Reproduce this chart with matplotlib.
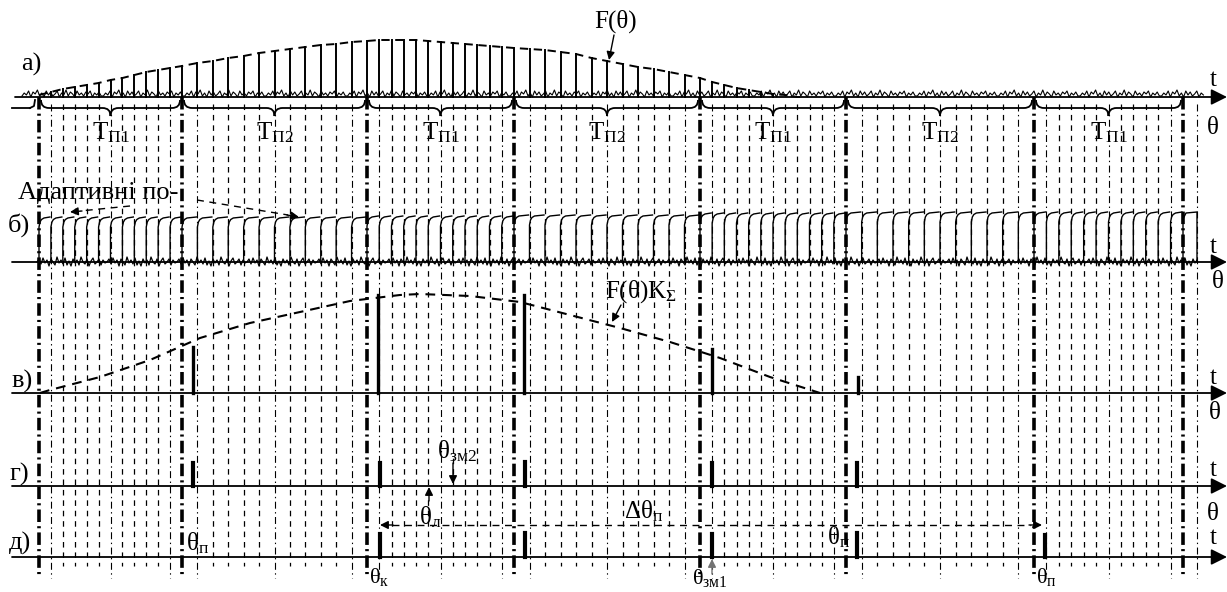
import numpy as np
import matplotlib.pyplot as plt
from matplotlib.path import Path
from matplotlib.patches import PathPatch

plt.rcParams['font.family'] = ['Liberation Serif', 'DejaVu Serif']
plt.rcParams['mathtext.fontset'] = 'custom'
plt.rcParams['mathtext.rm'] = 'Liberation Serif'
plt.rcParams['mathtext.it'] = 'Liberation Serif:italic'
plt.rcParams['lines.scale_dashes'] = False

# frame edges along the time axis and frame types
frame_edges = [39, 182, 367, 514, 700, 846, 1034, 1183]
frame_types = ['П1', 'П2', 'П1', 'П2', 'П1', 'П2', 'П1']
pulses_per_frame = 12

# a) pulse amplitudes F(theta), one per pulse position
a_heights = [2, 5, 8, 10, 12, 14, 17, 19, 22, 25, 27, 29,
             31, 34, 36, 39, 41, 44, 46, 48, 50, 52, 53, 55,
             56, 57, 57, 57, 57, 56, 55, 54, 53, 52, 51, 50,
             49, 48, 47, 45, 43, 39, 36, 33, 30, 28, 25, 22,
             19, 15, 12, 9, 7, 5, 3, 2, 0, 0, 0, 0,
             0, 0, 0, 0, 0, 0, 0, 0, 0, 0, 0, 0,
             0, 0, 0, 0, 0, 0, 0, 0, 0, 0, 0, 0,
             0]
# б) pulse amplitude per frame
b_heights = [44, 44, 45, 46, 48, 49, 49]
# в) envelope F(theta)K_sigma and detected pulses
v_env_x = [40, 50, 100, 150, 200, 250, 300, 350, 400, 420, 470, 520, 570, 620, 670, 720, 770, 820]
v_env_h = [0, 3, 16, 33, 55, 70, 81, 92, 98, 99, 97, 91, 78, 65, 51, 35, 16, 0]
v_bars_x = [193, 378, 524, 712, 858]
v_bars_h = [46, 98, 98, 44, 16]
# г) and д) marker pulses
g_bars_x = [193, 380, 525, 712, 857]
g_bars_h = [23, 23, 24, 23, 23]
d_bars_x = [380, 525, 712, 857, 1045]
d_bars_h = [23, 24, 23, 24, 22]
# receiver noise texture
noise_a = [1, 4, 2, 6, 0, 5, 3, 7, 1, 4, 0, 6, 2, 5, 1, 3, 6, 0, 4,
           2, 7, 1, 5, 3, 0, 6, 2, 4, 1, 5, 3, 6, 0, 4, 2, 5, 1]
noise_b = [0, 3, -2, 4, -1, 2, -4, 3, 0, -3, 5, -1, 2, -2, 4, -3, 1,
           -4, 3, -1, 2, -3, 5, 0, -2, 3, -4, 1, 4, -2, 0, 3, -3, 2, -1]

base_a, base_b, base_v, base_g, base_d = 97, 262, 393, 486, 557

fig = plt.figure(figsize=(12.27, 5.92), dpi=100)
ax = fig.add_axes([0, 0, 1, 1])
ax.set_xlim(0, 1227)
ax.set_ylim(592, 0)
ax.axis('off')

# pulse positions (12 per frame)
pos = []
for i in range(len(frame_types)):
    pos.extend(np.linspace(frame_edges[i], frame_edges[i + 1], pulses_per_frame + 1)[:-1])
pos.append(frame_edges[-1])
pos = np.array(pos)

# vertical grid lines
for k, x in enumerate(pos):
    j = k % pulses_per_frame
    if j == 0:
        ax.plot([x, x], [base_a, 578], color='k', lw=2.6, dashes=(9, 3, 1.5, 3))
    elif j in (1, 6, 11):
        ax.plot([x, x], [104, 578], color='k', lw=0.8, dashes=(5, 2.5, 1, 2.5))
    else:
        ax.plot([x, x], [104, 566], color='k', lw=0.9, dashes=(4, 3.5))
ax.plot([1197, 1197], [104, 578], color='k', lw=0.8, dashes=(5, 2.5, 1, 2.5))

# time axes with arrows
for y, x0 in [(base_a, 15), (base_b, 12), (base_v, 12), (base_g, 12), (base_d, 12)]:
    ax.annotate('', xy=(1227, y), xytext=(x0, y),
                arrowprops=dict(arrowstyle='-|>', color='k', lw=1.3,
                                mutation_scale=24, shrinkA=0, shrinkB=0))

# braces with frame labels
def brace(x0, x1, ytop=100, ymid=108, ytip=116, r=8):
    xm = (x0 + x1) / 2
    verts = [(x0, ytop), (x0, ymid), (x0 + r, ymid), (xm - r, ymid),
             (xm, ymid), (xm, ytip), (xm, ymid), (xm + r, ymid),
             (x1 - r, ymid), (x1, ymid), (x1, ytop)]
    codes = [Path.MOVETO, Path.CURVE3, Path.CURVE3, Path.LINETO,
             Path.CURVE3, Path.CURVE3, Path.CURVE3, Path.CURVE3,
             Path.LINETO, Path.CURVE3, Path.CURVE3]
    ax.add_patch(PathPatch(Path(verts, codes), fill=False, lw=1.3, color='k'))

for i, name in enumerate(frame_types):
    x0, x1 = frame_edges[i] + 2, frame_edges[i + 1] - 2
    brace(x0, x1)
    ax.text((x0 + x1) / 2, 133, r'$\mathrm{T}_{\mathrm{%s}}$' % name,
            fontsize=18, ha='center', va='center')
ax.plot([12, 30], [108, 108], color='k', lw=1.3)
ax.plot([30, 34, 35], [108, 106, 100], color='k', lw=1.3)

# a) noise and pulses under F(theta)
xn = np.arange(22, 1204, 2.2)
ax.plot(xn, base_a - np.resize(noise_a, len(xn)), color='k', lw=0.8)
a_h = np.array(a_heights)
for x, h in zip(pos, a_h):
    if h >= 3:
        ax.plot([x, x], [base_a, base_a - h], color='k', lw=1.4)
m = pos <= 800
ax.plot(np.append(pos[m], 800), np.append(base_a - a_h[m], base_a), color='k', lw=1.4, dashes=(6, 4))

# б) adaptive gating pulses
for k in range(len(pos) - 1):
    x0, x1 = pos[k], pos[k + 1]
    h = b_heights[k // pulses_per_frame]
    top = base_b - h
    ax.plot([x0, x0, x0 + 1, x0 + 2.5, x0 + 5, x1 - 1],
            [base_b, top + 9, top + 4, top + 1.5, top, top - 1], color='k', lw=1.0)
top = base_b - b_heights[-1]
ax.plot([pos[-1], pos[-1], pos[-1] + 3, 1197, 1197],
        [base_b, top + 6, top, top - 1, base_b], color='k', lw=1.0)
xn = np.arange(37, 1198, 2.0)
ax.plot(xn, base_b - np.resize(noise_b, len(xn)), color='k', lw=0.9)

# в) envelope and pulses
ax.plot(v_env_x, base_v - np.array(v_env_h), color='k', lw=1.5, dashes=(7, 5))
for x, h in zip(v_bars_x, v_bars_h):
    ax.plot([x, x], [base_v, base_v - h], color='k', lw=2.4)
# г) and д)
for x, h in zip(g_bars_x, g_bars_h):
    ax.plot([x, x], [base_g, base_g - h], color='k', lw=3)
for x, h in zip(d_bars_x, d_bars_h):
    ax.plot([x, x], [base_d, base_d - h], color='k', lw=3)

# section labels
for s, x, y in [('а)', 21, 64), ('б)', 8, 225), ('в)', 11, 381), ('г)', 9, 474), ('д)', 9, 543)]:
    ax.text(x, y, s, fontsize=19, ha='left', va='center')
for y in [80, 247, 378, 470, 538]:
    ax.text(1210, y, 't', fontsize=18, ha='left', va='center')
for x, y in [(1207, 128), (1212, 282), (1209, 413), (1207, 514)]:
    ax.text(x, y, 'θ', fontsize=18, ha='left', va='center')

# annotations
arrow = dict(arrowstyle='-|>', color='k', lw=1.0, mutation_scale=12, shrinkA=0, shrinkB=0)
ax.text(616, 21, 'F(θ)', fontsize=18, ha='center', va='center')
ax.annotate('', xy=(609, 60), xytext=(614, 35), arrowprops=arrow)
ax.text(605, 292, r'$\mathrm{F(θ)K}_{\mathrm{Σ}}$', fontsize=18, ha='left', va='center')
ax.annotate('', xy=(612, 322), xytext=(621, 305), arrowprops=arrow)

ax.text(18, 193, 'Адаптивні по-', fontsize=19, ha='left', va='center')
ax.plot([130, 80], [206, 211], color='k', lw=1.0, dashes=(5, 4))
ax.annotate('', xy=(70, 212), xytext=(82, 211), arrowprops=arrow)
ax.plot([197, 288], [200, 215], color='k', lw=1.0, dashes=(5, 4))
ax.annotate('', xy=(299, 217), xytext=(287, 215), arrowprops=arrow)

ax.plot([392, 1030], [525, 525], color='k', lw=1.0, dashes=(5, 4))
ax.annotate('', xy=(380, 525), xytext=(393, 525), arrowprops=arrow)
ax.annotate('', xy=(1042, 525), xytext=(1029, 525), arrowprops=arrow)
ax.text(644, 511, r'$\mathrm{Δθ}_{\mathrm{п}}$', fontsize=18, ha='center', va='center')

ax.annotate('', xy=(429, 487), xytext=(429, 501), arrowprops=arrow)
ax.text(419, 517, r'$\mathrm{θ}_{\mathrm{л}}$', fontsize=18, ha='left', va='center')
ax.annotate('', xy=(453, 484), xytext=(453, 463), arrowprops=arrow)
ax.text(437, 451, r'$\mathrm{θ}_{\mathrm{зм2}}$', fontsize=18, ha='left', va='center')
ax.annotate('', xy=(712, 559), xytext=(712, 574),
            arrowprops=dict(arrow, color='0.45'))

ax.text(186, 543, r'$\mathrm{θ}_{\mathrm{п}}$', fontsize=18, ha='left', va='center')
ax.text(827, 537, r'$\mathrm{θ}_{\mathrm{п}}$', fontsize=18, ha='left', va='center')
ax.text(369, 577, r'$\mathrm{θ}_{\mathrm{к}}$', fontsize=16, ha='left', va='center')
ax.text(692, 578, r'$\mathrm{θ}_{\mathrm{зм1}}$', fontsize=16, ha='left', va='center')
ax.text(1036, 577, r'$\mathrm{θ}_{\mathrm{п}}$', fontsize=16, ha='left', va='center')

plt.savefig('out.png', dpi=100)
